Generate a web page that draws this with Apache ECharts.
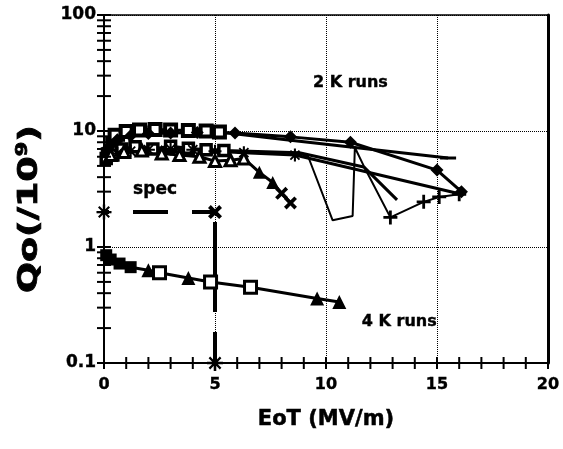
<!DOCTYPE html>
<html>
<head>
<meta charset="utf-8">
<script src="https://cdn.jsdelivr.net/npm/echarts@6/dist/echarts.min.js"></script>
<style>
html,body{margin:0;padding:0;background:#fff;}
#chart{width:563px;height:449px;}
</style>
</head>
<body>
<div id="chart"></div>
<script>
// ---------- data ----------
const xTickLabels = [0, 5, 10, 15, 20];
const xMinorTicks = [0,1,2,3,4,5,6,7,8,9,10,11,12,13,14,15,16,17,18,19,20];
const yTickLabels = [0.1, 1, 10, 100];
const yMinorTicks = [0.1,0.2,0.3,0.4,0.5,0.6,0.7,0.8,0.9,1,2,3,4,5,6,7,8,9,10,20,30,40,50,60,70,80,90,100];

// 2 K runs (marks = points drawn with a marker, tail = further points of the same run)
const run2kDiamond = [[0.2,7.2],[0.6,8.4],[1.2,9.1],[2.0,9.5],[3.0,9.6],[4.2,9.7],[5.9,9.6],[8.4,8.9],[11.1,8.0],[15.0,4.6],[16.1,3.0]];
const run2kTopMarks = [[0.5,9.2],[1.0,9.9],[1.6,10.2],[2.3,10.3],[3.0,10.2],[3.8,10.1],[4.6,10.0],[5.2,9.8]];
const run2kTopTail = [[8.2,8.4],[15.5,5.85]];
const run2kAstMarks = [[0.2,6.0],[0.6,6.4],[1.2,6.7],[2.0,6.9],[3.0,7.0],[4.0,6.9],[5.0,6.7],[6.3,6.5],[8.6,6.2]];
const run2kAstTail = [[16.1,2.85]];
const run2kTriOpen = [[0.3,6.2],[0.9,6.6],[1.7,6.8],[2.6,6.4],[3.4,6.2],[4.3,6.0],[5.0,5.5],[5.7,5.6],[6.3,5.8]];
const run2kTriFilled = [[7.0,4.4],[7.6,3.6]];
const run2kTriCross = [[8.0,2.9],[8.4,2.4]];
const run2kSquare = [[0.1,6.5],[0.3,8.0],[0.7,9.0],[1.1,9.6],[1.6,9.9],[2.2,10.0],[3.0,9.9]];
const run2kLowMarks = [[0.1,5.8],[0.4,6.2],[0.8,7.0],[1.4,7.3],[2.2,7.0],[3.0,7.4],[3.8,7.1],[4.6,6.9],[5.4,6.8]];
const run2kLowTail = [[8.8,6.5],[11.7,4.9],[13.2,2.55]];
const run2kSpike = [[8.8,6.4],[9.2,6.0],[10.3,1.7],[11.2,1.85],[11.3,7.2],[11.7,5.0]];
const run2kSpikePlus = [[12.9,1.8],[14.4,2.45],[15.1,2.7],[16.0,2.85]];

// 4 K runs
const run4kSquaresFilled = [[0.1,0.85],[0.3,0.78],[0.7,0.72],[1.2,0.67]];
const run4kSquaresOpen = [[2.5,0.60],[4.8,0.50],[6.6,0.45]];
const run4kTriangles = [[2.0,0.63],[3.8,0.54],[9.6,0.36],[10.6,0.335]];

// spec
const specH = [[0,2],[5,2]];
const specV = [[5,2],[5,0.1]];

// text annotations
const labels2k = [[11.1, 26, '2 K runs']];
const labels4k = [[13.3, 0.225, '4 K runs']];
const labelsSpec = [[2.3, 3.1, 'spec']];

// ---------- styling ----------
const FONT = 'DejaVu Sans';
const SYM_X = 'path://M0,2L2,0L5,3L8,0L10,2L7,5L10,8L8,10L5,7L2,10L0,8L3,5Z';
const SYM_PLUS = 'path://M4,0H6V4H10V6H6V10H4V6H0V4H4Z';
const SYM_AST = 'path://M4.2,0H5.8V4.2H10V5.8H5.8V10H4.2V5.8H0V4.2H4.2Z M1,2L2,1L5,4L8,1L9,2L6,5L9,8L8,9L5,6L2,9L1,8L4,5Z';

function sortX(a){ return a.slice().sort((p,q)=>p[0]-q[0]); }

function lineSeries(data, opt){
  opt = opt || {};
  return {
    type: 'line',
    data: data,
    symbol: 'none',
    showSymbol: false,
    clip: false,
    z: 2,
    lineStyle: {color:'#000', width: opt.width == null ? 3 : opt.width, type: opt.type || 'solid', dashOffset: opt.dashOffset || 0, opacity: 1},
    itemStyle: {color:'#000', opacity: 1},
    emphasis: {disabled: true},
    animation: false
  };
}
function scatterSeries(data, opt){
  return {
    type: 'scatter',
    data: data,
    symbol: opt.symbol,
    symbolSize: opt.size || 9,
    clip: false,
    z: 4,
    itemStyle: {color: opt.fill || '#000', borderColor:'#000', borderWidth: opt.border || 0, opacity: 1},
    emphasis: {disabled: true},
    animation: false
  };
}
function textSeries(data, size){
  return {
    type: 'scatter',
    data: data.map(d=>({value:[d[0], d[1]], name: d[2]})),
    symbolSize: 0,
    z: 6,
    itemStyle: {opacity: 1, color:'#000'},
    label: {show: true, position: 'inside', formatter: p=>p.name, color:'#000', opacity: 1,
      fontFamily: FONT, fontWeight:'bold', fontSize: size, textBorderColor:'#000', textBorderWidth: 0.4},
    emphasis: {disabled: true},
    animation: false
  };
}
function tickSeries(data, horizontal, half, width){
  return {
    type: 'custom',
    coordinateSystem: 'cartesian2d',
    clip: false,
    silent: true,
    z: 5,
    data: data,
    encode: {x: 0, y: 1},
    renderItem: function(params, api){
      const p = api.coord([api.value(0), api.value(1)]);
      const shape = horizontal ? {x1:p[0]-half, y1:p[1], x2:p[0]+half, y2:p[1]} : {x1:p[0], y1:p[1]-half, x2:p[0], y2:p[1]+half};
      return {type:'line', shape: shape, style:{stroke:'#000', lineWidth: width}};
    },
    animation: false
  };
}

const chart = echarts.init(document.getElementById('chart'), null, {renderer:'canvas'});

const series = [
  // 2K runs - lines
  lineSeries(run2kLowMarks.concat(run2kLowTail), {}),
  lineSeries(run2kSquare, {}),
  lineSeries(run2kTopMarks.concat(run2kTopTail), {}),
  lineSeries(run2kDiamond, {}),
  lineSeries(run2kAstMarks.concat(run2kAstTail), {}),
  lineSeries(sortX(run2kTriOpen.concat(run2kTriFilled, run2kTriCross)), {}),
  lineSeries(run2kSpike.concat(run2kSpikePlus), {width:2}),
  // 2K runs - markers
  scatterSeries(run2kLowMarks, {symbol:'rect', size:10, fill:'#fff', border:3.5}),
  scatterSeries(run2kSquare, {symbol:'rect', size:11}),
  scatterSeries(run2kTopMarks, {symbol:'rect', size:11, fill:'#fff', border:4}),
  scatterSeries(run2kDiamond, {symbol:'diamond', size:13}),
  scatterSeries(run2kAstMarks, {symbol:SYM_AST, size:13}),
  scatterSeries(run2kTriOpen, {symbol:'triangle', size:11, fill:'#fff', border:3}),
  scatterSeries(run2kTriFilled, {symbol:'triangle', size:13}),
  scatterSeries(run2kTriCross, {symbol:SYM_X, size:13}),
  scatterSeries(run2kSpikePlus, {symbol:SYM_PLUS, size:14}),
  scatterSeries([run2kTopTail[run2kTopTail.length-1]], {symbol:'rect', size:[16,3]}),
  // 4K runs
  lineSeries(sortX(run4kSquaresFilled.concat(run4kSquaresOpen, run4kTriangles)), {}),
  scatterSeries(run4kSquaresFilled, {symbol:'rect', size:12}),
  scatterSeries(run4kSquaresOpen, {symbol:'rect', size:12, fill:'#fff', border:3}),
  scatterSeries(run4kTriangles, {symbol:'triangle', size:14}),
  // spec
  lineSeries(specH, {width:4, type:[35,24], dashOffset:30}),
  lineSeries(specV, {width:4, type:[90,20], dashOffset:100}),
  scatterSeries([specH[0]], {symbol:SYM_AST, size:15}),
  scatterSeries([specH[1]], {symbol:SYM_X, size:14}),
  scatterSeries([specV[1]], {symbol:SYM_AST, size:16}),
  // text
  textSeries(labels2k, 16),
  textSeries(labels4k, 16),
  textSeries(labelsSpec, 17),
  // ticks
  tickSeries(yMinorTicks.map(v=>[0, v]), true, 7, 2),
  tickSeries(xMinorTicks.map(v=>[v, 0.1]), false, 6, 2)
];

chart.setOption({
  backgroundColor: '#fff',
  animation: false,
  grid: {left: 104, right: 15, top: 15, bottom: 86, show: false},
  graphic: [{
    type: 'text',
    x: 30, y: 209,
    rotation: Math.PI / 2,
    scaleX: 1.4,
    style: {
      text: 'Qo(/10{sup|9})',
      fill: '#000',
      fontFamily: FONT, fontWeight: 'bold', fontSize: 26,
      stroke: '#000', lineWidth: 0.8,
      align: 'center', verticalAlign: 'middle',
      rich: {sup: {fontFamily: FONT, fontWeight: 'bold', fontSize: 15, verticalAlign: 'top', padding: [0,0,14,0], fill:'#000'}}
    },
    z: 10
  }],
  xAxis: [{
    type: 'value', min: 0, max: 20, interval: 5,
    axisLine: {show: true, onZero: false, lineStyle: {color:'#000', width: 2}},
    axisTick: {show: false},
    axisLabel: {color:'#000', fontFamily: FONT, fontWeight:'bold', fontSize: 16, margin: 14,
      textBorderColor:'#000', textBorderWidth: 0.4,
      formatter: v => xTickLabels.indexOf(v) >= 0 ? String(v) : ''},
    splitLine: {show: true, lineStyle: {color:'#000', type:'dotted', width: 1}},
    name: 'EoT (MV/m)', nameLocation: 'middle', nameGap: 46,
    nameTextStyle: {color:'#000', fontFamily: FONT, fontWeight:'bold', fontSize: 21, textBorderColor:'#000', textBorderWidth: 0.5}
  },{
    type: 'value', min: 0, max: 20, position: 'top',
    axisLine: {show: true, onZero: false, lineStyle: {color:'#000', width: 1.5}},
    axisTick: {show: false}, axisLabel: {show: false}, splitLine: {show: false}
  }],
  yAxis: [{
    type: 'log', logBase: 10, min: 0.1, max: 100,
    axisLine: {show: true, onZero: false, lineStyle: {color:'#000', width: 2}},
    axisTick: {show: false},
    axisLabel: {color:'#000', fontFamily: FONT, fontWeight:'bold', fontSize: 17, margin: 8,
      textBorderColor:'#000', textBorderWidth: 0.4,
      formatter: v => { const m = yTickLabels.find(t => Math.abs(t - v) < 1e-9 * Math.max(1, v)); return m !== undefined ? String(m) : ''; }},
    splitLine: {show: true, lineStyle: {color:'#000', type:'dotted', width: 1}}
  },{
    type: 'log', logBase: 10, min: 0.1, max: 100, position: 'right',
    axisLine: {show: true, onZero: false, lineStyle: {color:'#000', width: 3}},
    axisTick: {show: false}, axisLabel: {show: false}, splitLine: {show: false}
  }],
  series: series
});
</script>
</body>
</html>
